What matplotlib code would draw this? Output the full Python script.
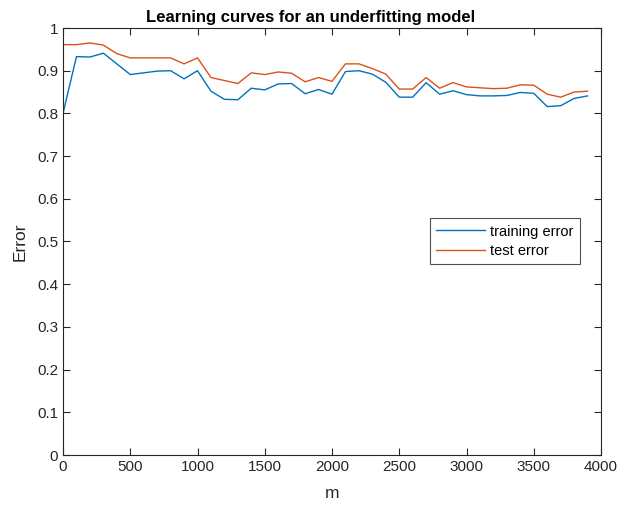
import matplotlib
matplotlib.use("Agg")
import matplotlib.pyplot as plt

# training set sizes and the corresponding error values
m_values = [0, 100, 200, 300, 400, 500, 600, 700, 800, 900,
            1000, 1100, 1200, 1300, 1400, 1500, 1600, 1700, 1800, 1900,
            2000, 2100, 2200, 2300, 2400, 2500, 2600, 2700, 2800, 2900,
            3000, 3100, 3200, 3300, 3400, 3500, 3600, 3700, 3800, 3900]
train_error = [0.800, 0.933, 0.932, 0.941, 0.916, 0.891, 0.895, 0.899, 0.900, 0.881,
               0.900, 0.852, 0.833, 0.832, 0.859, 0.855, 0.869, 0.870, 0.846, 0.856,
               0.845, 0.898, 0.900, 0.892, 0.873, 0.838, 0.838, 0.872, 0.845, 0.853,
               0.844, 0.841, 0.841, 0.842, 0.849, 0.847, 0.816, 0.818, 0.835, 0.841]
test_error = [0.961, 0.961, 0.965, 0.960, 0.940, 0.930, 0.930, 0.930, 0.930, 0.916,
              0.930, 0.884, 0.877, 0.870, 0.895, 0.891, 0.897, 0.894, 0.874, 0.884,
              0.875, 0.916, 0.916, 0.905, 0.892, 0.857, 0.857, 0.884, 0.859, 0.872,
              0.862, 0.860, 0.858, 0.859, 0.867, 0.866, 0.845, 0.838, 0.850, 0.852]
x_ticks = [0, 500, 1000, 1500, 2000, 2500, 3000, 3500, 4000]
y_ticks = [0, 0.1, 0.2, 0.3, 0.4, 0.5, 0.6, 0.7, 0.8, 0.9, 1]
y_tick_labels = ['0', '0.1', '0.2', '0.3', '0.4', '0.5', '0.6', '0.7', '0.8', '0.9', '1']

plt.rcParams['font.family'] = ['Liberation Sans', 'DejaVu Sans']
axis_color = (0.15, 0.15, 0.15)

fig = plt.figure(figsize=(6.21, 5.11), dpi=100)
ax = fig.add_axes([63 / 621, 1 - 455 / 511, 538 / 621, 427 / 511])

ax.plot(m_values, train_error, color='#0072BD', linewidth=1, label='training error')
ax.plot(m_values, test_error, color='#D95319', linewidth=1, label='test error')

ax.set_xlim(0, 4000)
ax.set_ylim(0, 1)
ax.set_xticks(x_ticks)
ax.set_yticks(y_ticks)
ax.set_yticklabels(y_tick_labels)
ax.tick_params(direction='in', top=True, right=True, length=5, width=0.8,
               colors=axis_color, labelsize=11, labelcolor=axis_color)
for spine in ax.spines.values():
    spine.set_color(axis_color)
    spine.set_linewidth(0.8)

ax.set_xlabel('m', fontsize=12.5, color=axis_color, labelpad=9)
ax.set_ylabel('Error', fontsize=12.5, color=axis_color, labelpad=7)
# title centred on the figure rather than on the axes
ax.set_title('Learning curves for an underfitting model', fontsize=12,
             fontweight='bold', pad=4, x=0.46)

leg = ax.legend(loc='upper left', bbox_to_anchor=(0.682, 0.555), fontsize=10.5,
                frameon=True, fancybox=False, handlelength=3.3, borderpad=0.45,
                labelspacing=0.35, handletextpad=0.4, borderaxespad=0)
leg.get_frame().set_edgecolor(axis_color)
leg.get_frame().set_linewidth(0.8)

fig.savefig('out.png', dpi=100)
